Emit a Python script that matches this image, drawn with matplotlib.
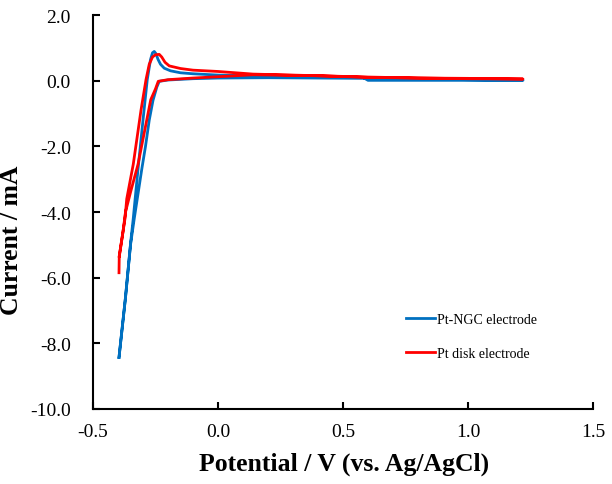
import numpy as np
import matplotlib.pyplot as plt

plt.rcParams['font.family'] = ['Liberation Serif', 'DejaVu Serif']

# Pt-NGC electrode (blue): anodic branch then cathodic branch
ngc_x = [-0.396, -0.37, -0.349, -0.339, -0.32, -0.30, -0.283, -0.27, -0.262,
         -0.255, -0.248, -0.24, -0.23, -0.215, -0.19, -0.15, -0.1, 0.0, 0.2,
         0.4, 0.58, 0.6, 0.8, 1.0, 1.22,
         1.0, 0.8, 0.6, 0.4, 0.2, 0.0, -0.1, -0.2, -0.235, -0.245, -0.26,
         -0.275, -0.29, -0.305, -0.335, -0.35, -0.37, -0.396]
ngc_y = [-8.43, -6.6, -4.9, -4.2, -2.7, -1.2, 0.03, 0.64, 0.85,
         0.89, 0.82, 0.65, 0.5, 0.38, 0.3, 0.24, 0.21, 0.17, 0.14,
         0.12, 0.1, 0.01, 0.01, 0.01, 0.01,
         0.03, 0.05, 0.07, 0.08, 0.09, 0.08, 0.06, 0.02, -0.02, -0.2, -0.6,
         -1.2, -2.0, -2.7, -4.2, -5.0, -6.6, -8.43]

# Pt disk electrode (red)
disk_x = [-0.396, -0.395, -0.388, -0.38, -0.372, -0.365, -0.339, -0.308, -0.288,
          -0.275, -0.262, -0.25, -0.235, -0.225, -0.212, -0.195, -0.15, -0.1,
          0.0, 0.14, 0.4, 0.6, 0.8, 1.0, 1.22,
          1.0, 0.8, 0.6, 0.4, 0.14, 0.0, -0.1, -0.2, -0.239, -0.25, -0.269,
          -0.285, -0.32, -0.35, -0.37, -0.38, -0.388, -0.395]
disk_y = [-5.85, -5.35, -5.0, -4.6, -4.2, -3.6, -2.55, -0.9, 0.03,
          0.5, 0.72, 0.79, 0.8, 0.72, 0.56, 0.45, 0.37, 0.32,
          0.28, 0.2, 0.15, 0.1, 0.08, 0.07, 0.05,
          0.06, 0.08, 0.11, 0.15, 0.18, 0.12, 0.08, 0.03, -0.02, -0.25, -0.58,
          -1.2, -2.55, -3.4, -4.0, -4.6, -5.0, -5.35]

fig = plt.figure(figsize=(6.12, 4.85), dpi=100)
ax = fig.add_axes([93/612, 75/485, 500/612, 394/485])

ax.plot(ngc_x, ngc_y, color='#0070C0', lw=2.0, label='Pt-NGC electrode')
ax.plot(disk_x, disk_y, color='#FF0000', lw=2.0, label='Pt disk electrode')

ax.set_xlim(-0.5, 1.5)
ax.set_ylim(-10, 2)
ax.set_xticks(np.arange(-0.5, 1.51, 0.5))
ax.set_yticks(np.arange(-10, 2.01, 2))
ax.xaxis.set_major_formatter(plt.FormatStrFormatter('%.1f'))
ax.yaxis.set_major_formatter(plt.FormatStrFormatter('%.1f'))
ax.tick_params(direction='in', length=5, width=1.5, labelsize=14)
ax.tick_params(axis='x', pad=10)
ax.tick_params(axis='y', pad=16)
ax.spines['top'].set_visible(False)
ax.spines['right'].set_visible(False)
ax.spines['left'].set_linewidth(1.5)
ax.spines['bottom'].set_linewidth(1.5)

ax.set_xlabel('Potential / V (vs. Ag/AgCl)', fontsize=18.5, fontweight='bold')
ax.set_ylabel('Current / mA', fontsize=18.5, fontweight='bold')
ax.xaxis.set_label_coords(0.502, -0.108)
ax.yaxis.set_label_coords(-0.14, 0.43)

ax.legend(loc='upper left', bbox_to_anchor=(0.60, 0.275), frameon=False, fontsize=10,
          handlelength=2.1, handletextpad=0.2, labelspacing=1.5)

fig.savefig('out.png', dpi=100)
